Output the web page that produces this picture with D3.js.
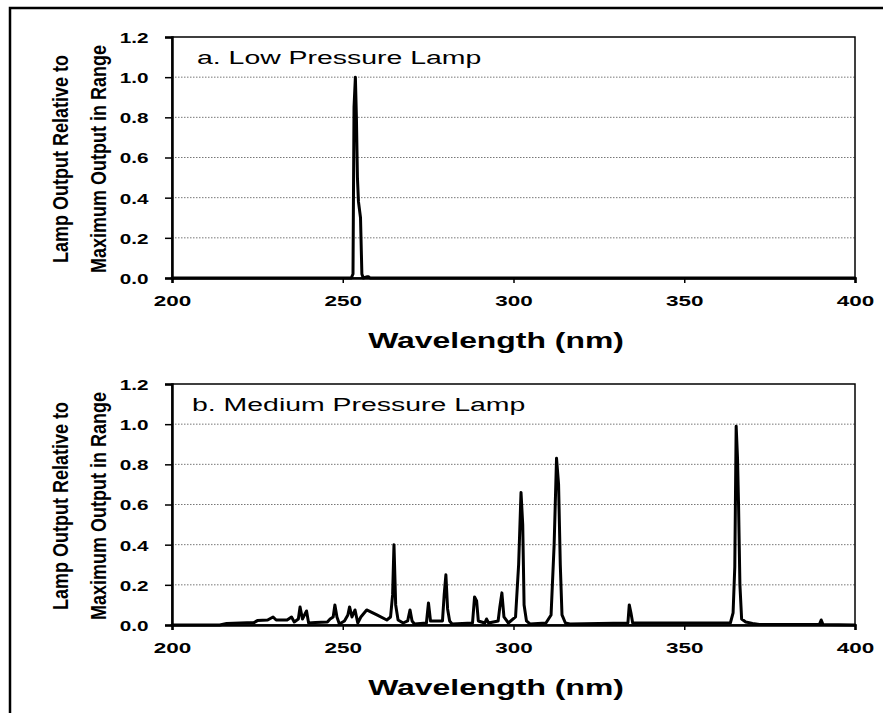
<!DOCTYPE html>
<html><head><meta charset="utf-8">
<script src="https://cdn.jsdelivr.net/npm/d3@7"></script>
<style>body{margin:0;background:#fff}svg{display:block}</style>
</head><body><svg id="c" width="883" height="713"></svg>
<script>
// ---------- data ----------
const xTicks = [200, 250, 300, 350, 400];
const yTicks = [0, 0.2, 0.4, 0.6, 0.8, 1.0, 1.2];
const panelTitles = ["a. Low Pressure Lamp", "b. Medium Pressure Lamp"];
const xTitle = "Wavelength (nm)";
const yTitle = ["Lamp Output Relative to", "Maximum Output in Range"];

const lowWavelength = [200, 252.5, 253.0, 253.3, 253.7, 254.0, 254.3, 254.6, 255.2, 255.6, 256.0, 257.2, 257.6, 258.0, 400];
const lowOutput     = [0,   0,     0.02,  0.85,  1.0,   0.8,   0.5,   0.38,  0.3,   0.02,  0,     0.006, 0.006, 0,     0];

const medWavelength = [200, 214, 216, 224, 225, 228, 229.6, 230.5, 233.7, 235, 235.8, 237, 237.5, 238.2, 239.4, 240, 242, 245.5, 246.3, 247.2, 247.7, 248.3, 249,
  250.5, 251.5, 252, 252.7, 253.6, 254.4, 255.3, 257, 260, 262.9, 264, 264.6, 265, 265.5, 266.2, 267.7, 269, 269.7, 270.3, 271,
  274.5, 275.1, 275.7, 279.2, 279.7, 280.2, 280.7, 281.3, 282, 288, 288.6, 289.2, 289.7, 291.6, 292.1, 292.7, 295.5, 296.0, 296.6, 297.2, 298.5,
  300.6, 301.5, 302.2, 302.7, 303.1, 303.8, 304.8, 309.5, 311.0, 311.9, 312.6, 313.2, 313.7, 314.2, 315.2, 316.5,
  333.5, 333.9, 334.4, 334.9, 363.5, 364.3, 364.8, 365.2, 365.6, 365.9, 366.3, 366.8, 368, 370, 372, 389.6, 390.1, 390.6, 400];
const medOutput = [0, 0, 0.008, 0.012, 0.022, 0.025, 0.04, 0.025, 0.025, 0.04, 0.015, 0.03, 0.09, 0.03, 0.07, 0.01, 0.012, 0.015, 0.03, 0.04, 0.1, 0.04, 0.005,
  0.02, 0.05, 0.09, 0.04, 0.075, 0.01, 0.04, 0.075, 0.05, 0.025, 0.04, 0.15, 0.4, 0.1, 0.025, 0.01, 0.02, 0.075, 0.02, 0.005,
  0.01, 0.11, 0.02, 0.02, 0.15, 0.25, 0.08, 0.02, 0.005, 0.01, 0.14, 0.12, 0.02, 0.01, 0.03, 0.01, 0.02, 0.09, 0.16, 0.04, 0.01,
  0.04, 0.3, 0.66, 0.5, 0.1, 0.02, 0.005, 0.01, 0.05, 0.4, 0.83, 0.7, 0.3, 0.05, 0.01, 0.005,
  0.01, 0.1, 0.06, 0.01, 0.01, 0.06, 0.29, 0.99, 0.83, 0.6, 0.2, 0.03, 0.015, 0.008, 0.003, 0.003, 0.025, 0.003, 0];

// ---------- drawing ----------
const FONT = "'Liberation Sans', Arial, Helvetica, sans-serif";
const svg = d3.select("#c");

// outer frame (left & top only visible)
svg.append("path").attr("d", "M10,713 L10,8 L883,8")
  .attr("fill", "none").attr("stroke", "#000").attr("stroke-width", 2.5);

const panels = [
  {wl: lowWavelength, val: lowOutput, top: 37, bottom: 278, titleX: 197},
  {wl: medWavelength, val: medOutput, top: 384, bottom: 625, titleX: 192}
];
const left = 172, right = 855;
const sx = 1.5; // horizontal glyph stretch of the original

panels.forEach((p, i) => {
  const x = d3.scaleLinear().domain([200, 400]).range([left, right]);
  const y = d3.scaleLinear().domain([0, 1.2]).range([p.bottom, p.top]);
  const g = svg.append("g");

  // gridlines
  g.append("g").selectAll("line").data(yTicks.filter(t => t > 0 && t < 1.2)).join("line")
    .attr("x1", left).attr("x2", right)
    .attr("y1", d => y(d)).attr("y2", d => y(d))
    .attr("stroke", "#777").attr("stroke-width", 1).attr("stroke-dasharray", "1.5,1.5");

  // plot frame
  g.append("rect").attr("x", left).attr("y", p.top).attr("width", right - left).attr("height", p.bottom - p.top)
    .attr("fill", "none").attr("stroke", "#000").attr("stroke-width", 1.5);

  // y axis
  const ya = g.append("g").attr("transform", `translate(${left},0)`)
    .call(d3.axisLeft(y).tickValues(yTicks).tickFormat(d3.format(".1f")).tickSize(7));
  ya.select(".domain").attr("stroke-width", 2.5);
  ya.selectAll(".tick line").attr("stroke-width", 1.5);
  ya.selectAll(".tick text")
    .attr("font-family", FONT).attr("font-size", 15).attr("font-weight", "bold").attr("fill", "#000")
    .attr("x", -17).attr("dy", "0.36em")
    .attr("transform", `scale(1.38,1)`);

  // x axis
  const xa = g.append("g").attr("transform", `translate(0,${p.bottom})`)
    .call(d3.axisBottom(x).tickValues(xTicks).tickFormat(d3.format("d")).tickSize(5));
  xa.select(".domain").attr("stroke-width", 2.5);
  xa.selectAll(".tick line").attr("stroke-width", 1.5);
  xa.selectAll(".tick text")
    .attr("font-family", FONT).attr("font-size", 15).attr("font-weight", "bold").attr("fill", "#000")
    .attr("y", 28).attr("dy", 0)
    .attr("transform", `scale(${sx},1)`);

  // series line
  const pts = p.wl.map((w, k) => [w, p.val[k]]);
  g.append("path").datum(pts)
    .attr("d", d3.line().x(d => x(d[0])).y(d => y(d[1])))
    .attr("fill", "none").attr("stroke", "#000").attr("stroke-width", 3)
    .attr("stroke-linejoin", "round").attr("stroke-linecap", "round");

  // panel title
  g.append("text").text(panelTitles[i])
    .attr("transform", `translate(${p.titleX},${p.top + 27}) scale(1.58,1)`)
    .attr("font-family", FONT).attr("font-size", 18).attr("fill", "#000");

  // x title
  g.append("text").text(xTitle)
    .attr("transform", `translate(496,${p.bottom + 70}) scale(1.45,1)`)
    .attr("text-anchor", "middle")
    .attr("font-family", FONT).attr("font-size", 22).attr("font-weight", "bold").attr("fill", "#000");

  // y title (two lines)
  const cy = (p.top + p.bottom) / 2 + 1.5;
  [68, 106].forEach((bx, k) => {
    g.append("text").text(yTitle[k])
      .attr("transform", `translate(${bx},${cy}) scale(1.2,1) rotate(-90)`)
      .attr("text-anchor", "middle")
      .attr("font-family", FONT).attr("font-size", 18).attr("font-weight", "bold").attr("fill", "#000");
  });
});
</script></body></html>
